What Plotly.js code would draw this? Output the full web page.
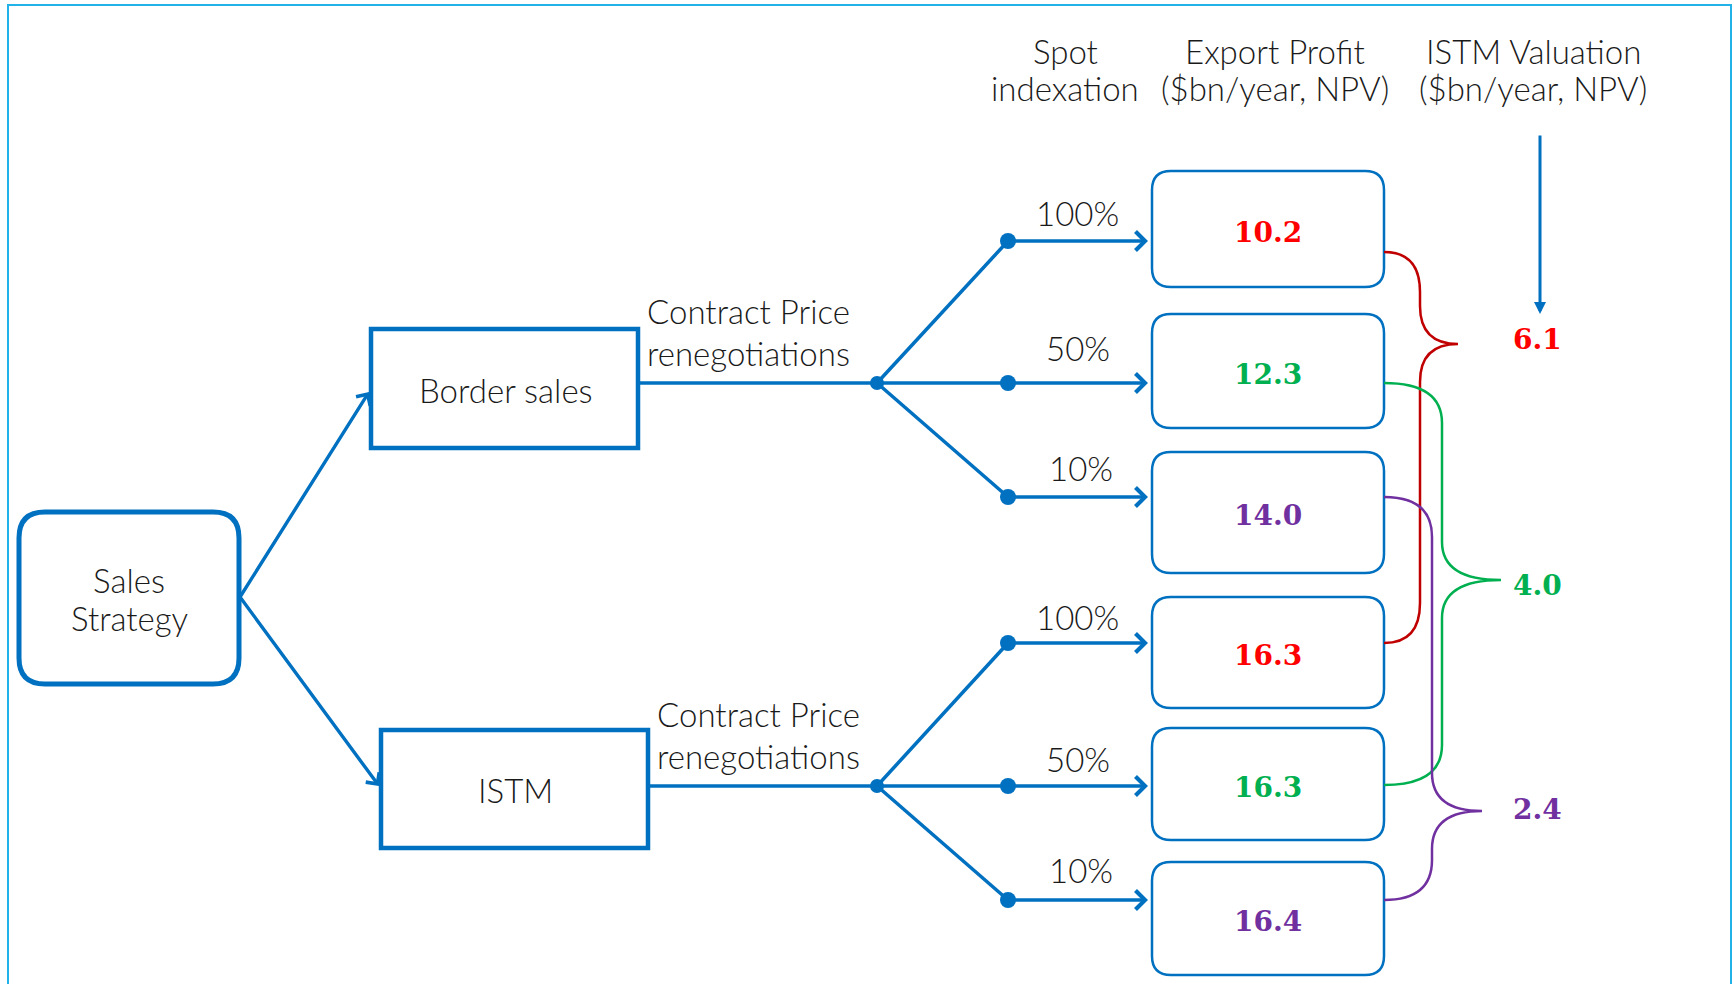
<!DOCTYPE html>
<html><head><meta charset="utf-8">
<script src="https://cdn.plot.ly/plotly-3.0.1.min.js"></script>
<style>html,body{margin:0;padding:0;background:#fff}#chart{width:1734px;height:984px}</style>
</head><body><div id="chart"></div>
<script>
// ---------------- data ----------------
const rootLabel = ['Sales', 'Strategy'];
const strategies = ['Border sales', 'ISTM'];
const stageLabel = ['Contract Price', 'renegotiations'];
const spotIndexation = ['100%', '50%', '10%'];
const borderSalesProfit = [10.2, 12.3, 14.0];
const istmProfit = [16.3, 16.3, 16.4];
const istmValuation = [6.1, 4.0, 2.4];
const headerSpot = ['Spot', 'indexation'];
const headerProfit = ['Export Profit', '($bn/year, NPV)'];
const headerValuation = ['ISTM Valuation', '($bn/year, NPV)'];

// ---------------- layout / style ----------------
const profits = [borderSalesProfit, istmProfit];
const BLUE = '#0070C0';
const FRAME = '#22B2EA';
const textColors = ['#FF0000', '#00B050', '#7030A0'];
const braceColors = ['#C00000', '#00B050', '#7030A0'];
const SANS = 'Lato, Roboto, "Open Sans", sans-serif';
const SERIF = '"DejaVu Serif", "Liberation Serif", serif';
const TXT = '#1a1a1a';
const FS = 33;

const rootBox = {x0: 19, x1: 239, y0: 512, y1: 684, r: 26};
const stratBox = [{x0: 371, x1: 638, y0: 329, y1: 448}, {x0: 381, x1: 648, y0: 730, y1: 848}];
const stratMidY = [383, 786];
const nodeX = 877, dotX = 1008, tipX = 1148;
const rowY = [[241, 383, 497], [643, 786, 900]];
const pctLabelY = [[213, 348, 468], [617, 759, 870]];
const pctLabelX = [1077, 1078, 1081];
const boxX0 = 1152, boxX1 = 1384;
const boxY = [[[171, 287], [314, 428], [452, 573]], [[597, 708], [728, 840], [862, 975]]];
const braceStart = [[252, 643], [383, 785], [497, 900]];
const braceVX = [1420, 1442, 1432];
const braceTipX = [1458, 1501, 1482];
const braceTipY = [344, 580, 811];
const valX = 1537;
const valY = [339, 585, 809];

function roundRect(b, r) {
  const {x0, x1, y0, y1} = b;
  return `M${x0 + r},${y0} L${x1 - r},${y0} Q${x1},${y0} ${x1},${y0 + r} L${x1},${y1 - r} Q${x1},${y1} ${x1 - r},${y1} ` +
         `L${x0 + r},${y1} Q${x0},${y1} ${x0},${y1 - r} L${x0},${y0 + r} Q${x0},${y0} ${x0 + r},${y0} Z`;
}
function bracePath(xs, yTop, yBot, xv, xt, yt) {
  const r1 = 40, r2 = 38;
  return `M${xs},${yTop} Q${xv},${yTop} ${xv},${yTop + r1} L${xv},${yt - r2} Q${xv},${yt} ${xt},${yt} ` +
         `Q${xv},${yt} ${xv},${yt + r2} L${xv},${yBot - r1} Q${xv},${yBot} ${xs},${yBot}`;
}

const shapes = [];
const annotations = [];
function shp(s) { s.xref = 'x'; s.yref = 'y'; s.layer = 'below'; shapes.push(s); }
function txt(x, y, text, opt) {
  opt = opt || {};
  annotations.push({
    x: x, y: y, xref: 'x', yref: 'y', text: text, showarrow: false,
    xanchor: opt.xanchor || 'center', yanchor: 'middle',
    font: {family: opt.family || SANS, size: opt.size || FS, color: opt.color || TXT, weight: opt.weight || 300}
  });
}
function arrow(x0, y0, x1, y1, opt) {
  annotations.push({
    x: x1, y: y1, ax: x0, ay: y0, xref: 'x', yref: 'y', axref: 'x', ayref: 'y',
    text: '', showarrow: true, arrowhead: opt.head, arrowwidth: opt.width, arrowsize: opt.size,
    arrowcolor: BLUE, standoff: 0, startstandoff: 0, borderpad: 0
  });
}

// frame
shp({type: 'rect', x0: 8, y0: 5, x1: 1731, y1: 1010, line: {color: FRAME, width: 2}});

// root box
shp({type: 'path', path: roundRect(rootBox, rootBox.r), line: {color: BLUE, width: 5}});
txt(129, 580, rootLabel[0]);
txt(129, 618, rootLabel[1]);
const rootOut = {x: 240, y: 597};

// strategy boxes and branches
const dotXs = [], dotYs = [], dotSz = [];
strategies.forEach((s, k) => {
  const b = stratBox[k];
  shp({type: 'rect', x0: b.x0, y0: b.y0, x1: b.x1, y1: b.y1, line: {color: BLUE, width: 4.5}});
  txt((b.x0 + b.x1) / 2 + 1, (b.y0 + b.y1) / 2 + 1, s);
  arrow(rootOut.x, rootOut.y, b.x0 - 2, k === 0 ? 392 : 786, {head: 4, width: 3.4, size: 0.95});
  shp({type: 'line', x0: b.x1, y0: stratMidY[k], x1: nodeX, y1: stratMidY[k], line: {color: BLUE, width: 3.5}});
  const cx = b.x1 + 110;
  txt(cx, stratMidY[k] - 72, stageLabel[0]);
  txt(cx, stratMidY[k] - 30, stageLabel[1]);
  dotXs.push(nodeX); dotYs.push(stratMidY[k]); dotSz.push(14);
  spotIndexation.forEach((lab, i) => {
    const y = rowY[k][i];
    shp({type: 'line', x0: nodeX, y0: stratMidY[k], x1: dotX, y1: y, line: {color: BLUE, width: 3.5}});
    dotXs.push(dotX); dotYs.push(y); dotSz.push(16);
    arrow(dotX, y, tipX, y, {head: 4, width: 3.5, size: 1.05});
    txt(pctLabelX[i], pctLabelY[k][i], lab);
    const [y0, y1] = boxY[k][i];
    shp({type: 'path', path: roundRect({x0: boxX0, x1: boxX1, y0: y0, y1: y1}, 19), line: {color: BLUE, width: 2.5}});
    txt((boxX0 + boxX1) / 2, (y0 + y1) / 2 + 3, '<b>' + profits[k][i].toFixed(1) + '</b>',
        {family: SERIF, size: 28, color: textColors[i], weight: 700});
  });
});

// braces + ISTM valuation
istmValuation.forEach((v, i) => {
  shp({type: 'path',
    path: bracePath(boxX1, braceStart[i][0], braceStart[i][1], braceVX[i], braceTipX[i], braceTipY[i]),
    line: {color: braceColors[i], width: 2.5}});
  txt(valX, valY[i], '<b>' + v.toFixed(1) + '</b>', {family: SERIF, size: 28, color: textColors[i], weight: 700});
});

// headers
[[1065, headerSpot], [1275, headerProfit], [1533, headerValuation]].forEach(([x, lines]) => {
  txt(x, 51, lines[0]);
  txt(x, 88, lines[1]);
});
// valuation pointer arrow
arrow(1540, 135, 1540, 314, {head: 2, width: 3, size: 0.8});

const traces = [{
  type: 'scatter', mode: 'markers', x: dotXs, y: dotYs, hoverinfo: 'skip',
  marker: {color: BLUE, size: dotSz, opacity: 1, line: {width: 0}}
}];

const layout = {
  width: 1734, height: 984, margin: {l: 0, r: 0, t: 0, b: 0},
  paper_bgcolor: '#ffffff', plot_bgcolor: 'rgba(0,0,0,0)', showlegend: false,
  xaxis: {range: [0, 1734], visible: false, fixedrange: true},
  yaxis: {range: [984, 0], visible: false, fixedrange: true},
  shapes: shapes, annotations: annotations
};
Plotly.newPlot('chart', traces, layout, {displayModeBar: false, staticPlot: true});
</script></body></html>
